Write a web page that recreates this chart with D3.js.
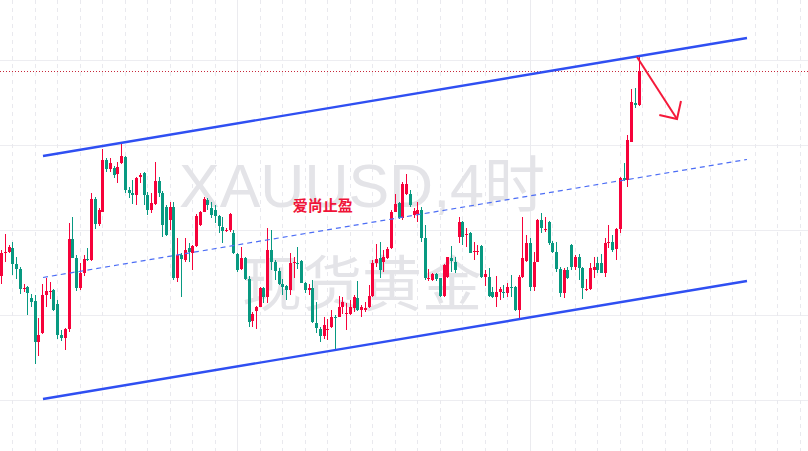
<!DOCTYPE html>
<html><head><meta charset="utf-8">
<script src="https://cdn.jsdelivr.net/npm/d3@7"></script>
<style>html,body{margin:0;padding:0;background:#fff;overflow:hidden}</style>
</head><body><svg id="c" width="808" height="451"></svg>
<script>
const opens = [2424.3,2447,2448.3,2452.3,2436,2430.7,2411.5,2413.3,2401.7,2399.3,
2358.3,2366.7,2405,2408.5,2410,2396,2365,2362.3,2371,2461,
2441.7,2412.3,2427.3,2441,2440,2501.3,2475.7,2488.3,2540,2530.7,
2531.7,2525.7,2536.7,2543.3,2510,2506.7,2505,2523.3,2526.7,2505,
2490,2496,2519.3,2507.3,2493.3,2480,2493.3,2421.7,2445,2440,
2451.7,2446.7,2454,2475,2488.3,2500,2491.7,2490,2484,2473.3,
2469.5,2470,2467.3,2446,2430.7,2441.7,2420.7,2379.3,2389.3,2393.3,
2411.7,2403.3,2450,2438.3,2429.3,2416,2414,2410,2437.3,2437.3,
2439.3,2417.3,2410,2411.7,2376.7,2370.7,2364.3,2370,2372.7,2383.3,
2383.3,2393.3,2385.7,2386,2391.7,2402.3,2390,2390,2392.7,2404,
2437,2442,2438,2442.5,2451.7,2488.3,2496.7,2482,2506,2506,
2485,2486,2490,2461.7,2420.7,2420,2426,2421.7,2404,2422.7,
2442.3,2438.3,2463.3,2478.3,2465,2466.7,2448.3,2448.5,2454,2422.7,
2422.7,2408.3,2403.3,2408.3,2408.3,2407.3,2413.3,2413.3,2390,2422.7,
2439.3,2456.7,2413.3,2438.3,2480,2470.5,2478.3,2456.7,2448.3,2431,
2406.7,2430,2455,2433.3,2443.3,2431.7,2410,2410.7,2430,2436.7,
2436.7,2427.3,2456.7,2458.3,2450.7,2470.7,2521.7,2520,2558.3,2597.3,
2595];
const highs = [2450,2466,2455,2458.3,2443.3,2433.3,2416,2414,2406,2405,
2381.7,2416,2422.3,2418.3,2411,2400,2370,2372,2476.7,2482.7,
2445,2436.7,2445,2451.7,2507.3,2503,2491.7,2550.7,2541.7,2542,
2534,2538.3,2556.7,2544,2513.3,2520,2523.3,2527.3,2528.3,2508.3,
2506.7,2537.7,2523.3,2509,2495,2498.3,2498.3,2461.7,2446.7,2461.7,
2457,2455,2486,2489.3,2502.7,2502,2498.3,2495,2485,2483.3,
2472,2486.7,2470,2446.7,2453.3,2443.3,2424,2388.3,2394,2412.7,
2413.3,2471.7,2470,2440,2431.7,2420.7,2415,2446.7,2443.3,2453.3,
2440,2418.3,2416,2420,2398.3,2373.3,2383.3,2380.7,2390,2385,
2404,2403.3,2396.7,2400,2405,2419.3,2395,2398.3,2415,2440,
2456,2458,2450,2453,2490,2506,2498,2518,2526,2510,
2492,2498,2493.3,2475,2431,2427.3,2427.3,2422,2436,2443.3,
2454,2443.3,2483.3,2479.3,2471.7,2468.3,2458.3,2455,2455,2430,
2431.7,2413.3,2424,2413.3,2415,2416.7,2425,2414,2425,2483.3,
2465,2461.7,2448.3,2480.7,2486.7,2483.3,2479.3,2459.3,2458.3,2433.3,
2431.7,2433.3,2456,2445,2446,2433.3,2420.7,2436.7,2443.3,2442.7,
2446,2461.7,2475,2465,2471.7,2523.3,2536.7,2565,2610.7,2611.7,
2643.3];
const lows = [2416,2438.3,2447,2425,2420.7,2406,2408.3,2385,2393.3,2336,
2344,2366,2393.3,2400.7,2389,2360.7,2359.3,2350,2368.3,2442,
2409.3,2410,2424,2439,2439,2470.7,2474,2488,2528.3,2528,
2522,2516.7,2536,2507.3,2501.7,2496,2495,2516.7,2495,2485,
2486.7,2495,2503.3,2463.3,2464,2470,2420,2418.3,2403.3,2438.3,
2438,2430,2453,2474,2488,2490,2481.7,2477,2466.7,2456.7,
2468,2468.3,2446,2428.3,2430,2420,2373.3,2373.3,2370.7,2392.7,
2397.3,2397.3,2430,2420,2415,2405,2400,2405,2421.7,2430.7,
2416.7,2406.7,2405,2376.7,2366.7,2358.3,2360.7,2360,2371.7,2350,
2382.7,2386,2370,2385,2388.3,2389.5,2383.3,2388.3,2391.7,2403,
2433,2422,2428,2441.5,2451,2488,2481,2480,2505,2493,
2482,2478,2458.3,2420,2419.3,2419.3,2419.3,2403.3,2403.5,2422.5,
2428.3,2426.7,2456.7,2455,2453.3,2447,2440,2445,2421.7,2414,
2403.3,2401.7,2393.3,2400,2401.7,2403.3,2403.3,2389.3,2380.7,2421.7,
2438.3,2409.3,2409.3,2438,2466.7,2468.3,2455,2446.7,2428.3,2403.3,
2401.7,2420.7,2430,2430,2420,2400.7,2409.3,2410,2421.7,2426.7,
2426.7,2423.3,2451.7,2448.3,2440,2466.7,2519.3,2512.7,2558.3,2591.7,
2594.5];
const closes = [2446.7,2448,2453.3,2436,2430.7,2411,2412.5,2406.7,2397.7,2358.3,
2365,2405,2409.3,2409.5,2390,2365,2362.3,2371,2461,2442.3,
2411.7,2427.3,2441,2440,2500.7,2475.7,2490,2540,2530.7,2536.7,
2525,2533.3,2544,2510,2506.7,2505,2521.7,2525,2505,2490,
2496.7,2519.3,2507.3,2475,2465,2493.3,2421.7,2445,2440.7,2450,
2448.3,2454,2484,2488.3,2500.7,2495,2485,2484,2474,2469.3,
2470.5,2486,2446.7,2430,2441.7,2420.7,2378.3,2386,2393.3,2411.7,
2403.3,2450,2438.3,2429.3,2416,2413.3,2410,2436.7,2438.3,2436,
2417.3,2410,2411.7,2378.3,2371.7,2364.3,2375,2370.7,2383.3,2382.5,
2393.3,2398.3,2386.7,2393.3,2402.7,2390,2392.7,2392.3,2404,2437,
2441,2430,2443,2451,2488.3,2496,2481.7,2516,2516,2495,
2489,2490,2461.7,2421.7,2421.7,2426,2420.7,2404,2435,2442.7,
2439.3,2430,2478.3,2463.3,2466,2447.3,2449.3,2449.5,2422.7,2426,
2404,2403.3,2408.3,2410.7,2406.7,2413.3,2411.7,2390,2423.3,2441.7,
2456.7,2413.3,2438.3,2480,2471.7,2471.5,2456.7,2448.3,2431,2406.7,
2430,2421.7,2433.3,2443.3,2431.7,2411.7,2410.7,2431.7,2433.3,2430,
2427.3,2456.7,2458.3,2450,2470.7,2521.7,2520,2560,2598.3,2595,
2629.3];

// grid levels (price) and vertical grid (bar index)
const gridPrices = [2640, 2555, 2470, 2385, 2300];
const gridBars = d3.range(3, 214, 6);
const solidGridBars = [63, 141];

// channel drawn on chart (bar index, price)
const channelBars = [11.2, 198.93];
const channelUpper = [2544, 2662];
const channelLower = [2301, 2419];
const channelMid = [2422.5, 2540.5];

// arrow (bar index, price)
const arrowBars = [169.6, 180.27];
const arrowPrices = [2643, 2581];
const arrowWingBars = [175.55, 181.33];
const arrowWingPrices = [2585, 2599];

const noteText = "爱尚止盈";
const noteBar = 85.8, notePrice = 2494.5;
const watermark1 = "XAUUSD,4时";
const watermark2 = "现货黄金";

const UP = "#f6023a", DOWN = "#089981";
const W = 808, H = 451;
const svg = d3.select("#c");

const x = d3.scaleLinear().domain([0, 170]).range([1, 638.5]);
const y = d3.scaleLinear().domain([2300, 2640]).range([400, 60]);

// grid
const g0 = svg.append("g");
g0.selectAll("line.h").data(gridPrices).join("line")
  .attr("x1", 0).attr("x2", W)
  .attr("y1", d => Math.round(y(d)) + 0.5).attr("y2", d => Math.round(y(d)) + 0.5)
  .attr("stroke", "#ededf1").attr("stroke-width", 1);
g0.selectAll("line.v").data(gridBars).join("line")
  .attr("x1", d => Math.round(x(d)) + 0.5).attr("x2", d => Math.round(x(d)) + 0.5)
  .attr("y1", 0).attr("y2", H)
  .attr("stroke", d => solidGridBars.includes(d) ? "#ebebef" : "#e9e9ee")
  .attr("stroke-width", 1)
  .attr("stroke-dasharray", d => solidGridBars.includes(d) ? null : "4,4");

// watermark
const wm = svg.append("g").attr("fill", "#e4e4e8")
  .attr("font-family", "'Liberation Sans','Noto Sans CJK SC',sans-serif")
  .attr("text-anchor", "middle");
wm.append("text").attr("x", 362).attr("y", 207).attr("font-size", 61).text(watermark1);
wm.append("text").attr("x", 362).attr("y", 306).attr("font-size", 60)
  .attr("font-family", "'Noto Sans CJK SC',sans-serif").text(watermark2);

// last price dotted line
const lastClose = closes[closes.length - 1];
svg.append("line").attr("x1", 0).attr("x2", W)
  .attr("y1", Math.round(y(lastClose)) + 0.5).attr("y2", Math.round(y(lastClose)) + 0.5)
  .attr("stroke", "#c8283a").attr("stroke-width", 1).attr("stroke-dasharray", "1,2");

// candles
const idx = d3.range(opens.length);
const cg = svg.append("g").attr("shape-rendering", "crispEdges");
cg.selectAll("line").data(idx).join("line")
  .attr("x1", i => Math.round(x(i)) + 0.5).attr("x2", i => Math.round(x(i)) + 0.5)
  .attr("y1", i => y(highs[i])).attr("y2", i => y(lows[i]))
  .attr("stroke", i => closes[i] >= opens[i] ? UP : DOWN).attr("stroke-width", 1);
cg.selectAll("rect").data(idx).join("rect")
  .attr("x", i => Math.round(x(i)) - 1).attr("width", 3)
  .attr("y", i => Math.min(y(opens[i]), y(closes[i])))
  .attr("height", i => Math.max(1, Math.abs(y(opens[i]) - y(closes[i]))))
  .attr("fill", i => closes[i] >= opens[i] ? UP : DOWN);

// channel
const line2 = (ys) => d3.line()([[x(channelBars[0]), y(ys[0])], [x(channelBars[1]), y(ys[1])]]);
svg.append("path").attr("d", line2(channelUpper)).attr("stroke", "#2f4ff2").attr("stroke-width", 2.4).attr("fill", "none");
svg.append("path").attr("d", line2(channelLower)).attr("stroke", "#2f4ff2").attr("stroke-width", 2.4).attr("fill", "none");
svg.append("path").attr("d", line2(channelMid)).attr("stroke", "#4d6ef5").attr("stroke-width", 1.2)
  .attr("stroke-dasharray", "5,4").attr("fill", "none");

// arrow
const red = "#f5193a";
svg.append("path").attr("d", d3.line()([[x(arrowBars[0]), y(arrowPrices[0])], [x(arrowBars[1]), y(arrowPrices[1])]]))
  .attr("stroke", red).attr("stroke-width", 2).attr("fill", "none");
svg.append("path").attr("d", d3.line()([[x(arrowWingBars[0]), y(arrowWingPrices[0])], [x(arrowBars[1]), y(arrowPrices[1])], [x(arrowWingBars[1]), y(arrowWingPrices[1])]]))
  .attr("stroke", red).attr("stroke-width", 2).attr("fill", "none").attr("stroke-linejoin", "miter");

// note
svg.append("text").attr("x", x(noteBar)).attr("y", y(notePrice)).attr("dy", "0.35em")
  .attr("text-anchor", "middle").attr("font-family", "'Noto Sans CJK SC',sans-serif")
  .attr("font-size", 15).attr("font-weight", "bold").attr("fill", "#ef1438").text(noteText);
</script></body></html>
